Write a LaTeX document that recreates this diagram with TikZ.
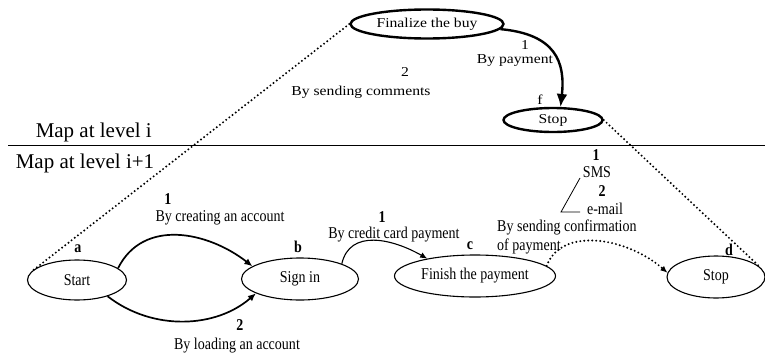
\documentclass[tikz,border=0pt]{standalone}
\usepackage{fontspec}
\setmainfont{Liberation Serif}
\newfontfamily\lowfont[FakeStretch=0.85]{Liberation Serif}
\newfontfamily\topfont[FakeStretch=1.15]{Liberation Serif}
\usetikzlibrary{shapes.geometric}
\usetikzlibrary{arrows.meta}
\usetikzlibrary{positioning}

\begin{document}
\begin{tikzpicture}[x=1pt,y=-1pt,
  upstate/.style={ellipse,draw,line width=2.4pt,inner sep=0pt,font=\fontsize{13.6}{15}\topfont},
  lowstate/.style={ellipse,draw,line width=1.1pt,inner sep=0pt,font=\fontsize{16.5}{18}\lowfont},
  uptext/.style={inner sep=0pt,font=\fontsize{13.6}{15}\topfont},
  lowtext/.style={inner sep=0pt,align=left,font=\fontsize{16.5}{19}\lowfont},
  lowbold/.style={inner sep=0pt,font=\fontsize{16.5}{18}\lowfont\bfseries},
  leveltext/.style={inner sep=0pt,font=\fontsize{21}{23}\selectfont},
  dots/.style={line width=2.2pt,line cap=round,dash pattern=on 0pt off 4pt}]
\useasboundingbox (0,0) rectangle (765,356);

\node[upstate,minimum width=153,minimum height=29] (fin) at (427,24) {Finalize the buy};
\node[upstate,minimum width=99,minimum height=24] (stopt) at (553,120) {Stop};
\node[lowstate,minimum width=99,minimum height=40] (start) at (77,280) {Start};
\node[lowstate,minimum width=117,minimum height=42] (signin) at (300,279) {Sign in};
\node[lowstate,minimum width=161,minimum height=42] (finish) at (475,276) {Finish the payment};
\node[lowstate,minimum width=98,minimum height=42] (stopb) at (716,277) {Stop};

\coordinate (ll) at (8,145);
\coordinate (lr) at (765,145);
\draw[line width=0.9pt] (ll) -- (lr);
\node[leveltext,anchor=east] (lvli) at (152,132) {Map at level i};
\node[leveltext] (lvlii) at (85,163) {Map at level i+1};

\node[uptext] (payn) at (525,45) {1};
\node[uptext] (pay) at (515,61) {By payment};
\node[uptext] (comn) at (405,72) {2};
\node[uptext] (com) at (361,92) {By sending comments};
\node[uptext] (lblf) at (540,100) {f};

\node[lowbold] (lbla) at (78,249) {a};
\node[lowbold] (lblb) at (298,247) {b};
\node[lowbold] (lblc) at (470,246) {c};
\node[lowbold] (lbld) at (729,250) {d};
\node[lowbold] (crean) at (168,199) {1};
\node[lowtext] (crea) at (220,218) {By creating an account};
\node[lowbold] (loadn) at (240,325) {2};
\node[lowtext] (load) at (237,346) {By loading an account};
\node[lowbold] (cardn) at (382,217) {1};
\node[lowtext] (card) at (394,235) {By credit card payment};
\node[lowtext,anchor=west] (conf) at (497,237) {By sending confirmation\\of payment};
\node[lowbold] (smsn) at (596,155) {1};
\node[lowtext] (sms) at (597,172) {SMS};
\node[lowbold] (mailn) at (602,191) {2};
\node[lowtext] (mail) at (605,209) {e-mail};
\coordinate (s1) at (580,178);
\coordinate (s2) at (561,212);
\coordinate (s3) at (580,212);
\draw[line width=0.8pt] (s1) -- (s2) -- (s3);

\draw[dots] (fin.west) -- (start.170);
\draw[dots] (stopt.east) -- (stopb.12);
\draw[line width=2.4pt,-{Latex[length=13pt,width=11pt]}] (fin.-4) .. controls +(55,5) and +(5,-45) .. (stopt.60);
\draw[line width=1.7pt,-{Latex[length=8pt,width=7pt]}] (start.16) .. controls +(25,-50) and +(-45,-35) .. (signin.165);
\draw[line width=1.7pt,-{Latex[length=8pt,width=7pt]}] (start.-28) .. controls +(45,35) and +(-40,35) .. (signin.-162);
\draw[line width=1.1pt,-{Latex[length=7pt,width=6pt]}] (signin.20) .. controls +(8,-35) and +(-35,-20) .. (finish.160);
\draw[dots,-{Latex[length=7pt,width=6pt]}] (finish.8) .. controls +(15,-40) and +(-40,-35) .. (stopb.175);
\end{tikzpicture}
\end{document}
